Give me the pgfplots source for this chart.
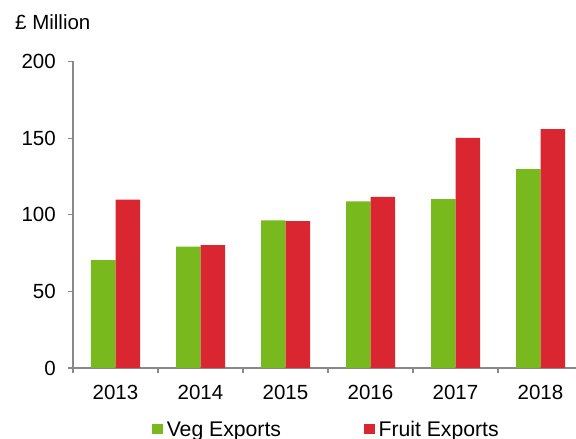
\documentclass[border=0pt]{standalone}
\usepackage{fontspec}
\setmainfont{Liberation Sans}
\usepackage{pgfplots}
\pgfplotsset{compat=1.18}
\definecolor{veg}{RGB}{120,185,30}
\definecolor{fruit}{RGB}{217,38,48}
\definecolor{axgray}{RGB}{137,137,137}
\begin{document}
\fontsize{20.5bp}{24bp}\selectfont
\begin{tikzpicture}
\useasboundingbox (0,0) rectangle (576bp,439bp);
\clip (0,0) rectangle (576bp,439bp);
\node[anchor=base west, inner sep=0] at (15bp,409bp) {£ Million};
\begin{axis}[
 at={(73bp,71bp)}, anchor=south west,
 scale only axis, width=510bp, height=306.5bp,
 xmin=-0.5, xmax=5.5, ymin=0, ymax=200,
 axis x line*=bottom, axis y line*=left,
 axis line style={axgray, line width=1.2bp, -},
 tick style={axgray, line width=1.2bp},
 tick align=outside, major tick length=5bp,
 ytick={0,50,100,150,200},
 xtick={-0.5,0.5,1.5,2.5,3.5,4.5,5.5},
 xticklabels={2013,2014,2015,2016,2017,2018},
 x tick label as interval,
 /pgf/number format/assume math mode=true,
 yticklabel style={inner sep=0pt, xshift=-12bp},
 xticklabel style={inner sep=0pt, yshift=-12bp},
 ybar=0pt, bar width=24.5bp,
 legend columns=2,
 legend style={at={(axis cs:2.5,0)}, anchor=north, xshift=-2bp, yshift=-52.4bp, draw=none, fill=none, inner sep=0pt,
   font=\fontsize{21.2bp}{25bp}\selectfont,
   nodes={inner sep=1bp}, cells={anchor=west},
   /tikz/every odd column/.append style={column sep=3bp},
   /tikz/every even column/.append style={column sep=82bp}},
 legend image code/.code={\fill[#1] (0bp,-3.5bp) rectangle (10.5bp,7bp);},
]
\addplot[fill=veg, draw=none] coordinates {(0,70.4) (1,79.2) (2,96.3) (3,108.7) (4,110.2) (5,129.8)};
\addplot[fill=fruit, draw=none] coordinates {(0,109.9) (1,80.2) (2,95.9) (3,111.7) (4,150.2) (5,155.9)};
\legend{Veg Exports, Fruit Exports}
\end{axis}
\end{tikzpicture}
\end{document}
